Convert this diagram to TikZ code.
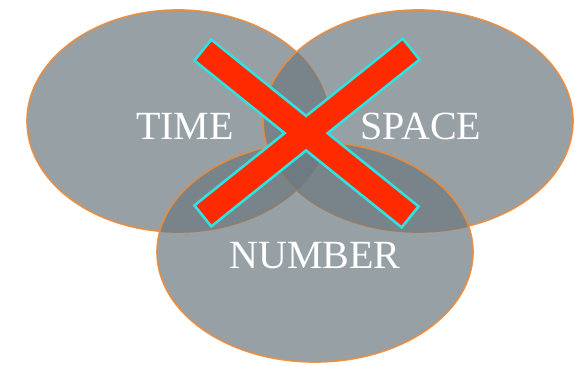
\documentclass[tikz,border=0pt]{standalone}
\usepackage{fontspec}
\setmainfont{Liberation Serif}
\usetikzlibrary{shapes.geometric}
\definecolor{cgrey}{RGB}{107,119,126}
\definecolor{corange}{RGB}{232,140,62}
\definecolor{cred}{RGB}{255,42,0}
\definecolor{ccyan}{RGB}{48,226,226}
\tikzset{
  venn/.style={ellipse, draw=corange, line width=1.7pt, fill=cgrey, fill opacity=0.7, draw opacity=0.9, inner sep=0pt},
  label/.style={text=white, font=\fontsize{40}{40}\selectfont},
  xedge/.style={draw=ccyan, line width=29.5pt, shorten <=-2.75pt, shorten >=-2.75pt},
  xbar/.style={draw=cred, line width=24pt},
}

\begin{document}
\begin{tikzpicture}[x=1pt, y=1pt]
  \useasboundingbox (0,0) rectangle (575,366);
  % the three sets
  \node[venn, minimum width=302pt, minimum height=222pt] (time) at (178,245) {};
  \node[venn, minimum width=310pt, minimum height=222pt] (space) at (418,245) {};
  \node[venn, minimum width=316pt, minimum height=220pt] (number) at (315,114) {};
  \node[label] (ltime) at (185,240) {TIME};
  \node[label] (lspace) at (421,240) {SPACE};
  \node[label] (lnumber) at (315,110) {NUMBER};
  % the cross
  \coordinate (a1) at (204,315);
  \coordinate (a2) at (409,150);
  \coordinate (b1) at (410,316);
  \coordinate (b2) at (204,151);
  \draw[xedge] (a1) -- (a2);
  \draw[xedge] (b1) -- (b2);
  \draw[xbar] (a1) -- (a2);
  \draw[xbar] (b1) -- (b2);
\end{tikzpicture}
\end{document}
